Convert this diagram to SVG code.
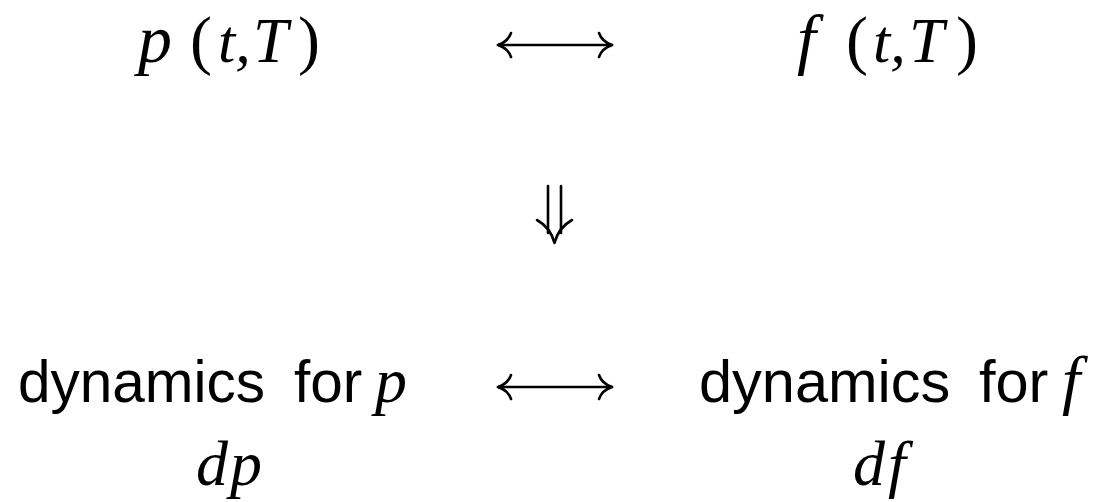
<svg xmlns="http://www.w3.org/2000/svg" width="1104" height="502" viewBox="0 0 1104 502">
<style>
.m{font-family:"Liberation Serif","Times New Roman",serif;font-style:italic;fill:#000}
.mr{font-family:"Liberation Serif","Times New Roman",serif;font-style:normal;fill:#000}
.s{font-family:"Liberation Sans",Arial,sans-serif;fill:#000}
.c{fill:none;stroke:#000;stroke-width:2.6;stroke-linecap:round;stroke-linejoin:round}
</style>
<rect width="1104" height="502" fill="#fff"/>
<g id="node-p">
<text class="m" font-size="68" y="62" x="138">p</text>
<text class="mr" font-size="66" y="62" x="190">(</text>
<text class="m" font-size="62" y="62" x="218">t,</text>
<text class="m" font-size="63" y="62" x="253">T</text>
<text class="mr" font-size="66" y="62" x="298">)</text>
</g>
<g id="node-f">
<text class="m" font-size="68" y="62" x="797">f</text>
<text class="mr" font-size="66" y="62" x="846">(</text>
<text class="m" font-size="62" y="62" x="873">t,</text>
<text class="m" font-size="63" y="62" x="909">T</text>
<text class="mr" font-size="66" y="62" x="956">)</text>
</g>
<g id="node-dyn-p">
<text class="s" font-size="58.5" y="402"><tspan x="18">dynamics</tspan><tspan x="294">for</tspan></text>
<text class="m" font-size="64" y="402" x="375">p</text>
<text class="m" font-size="64" y="485"><tspan x="196">d</tspan><tspan x="230">p</tspan></text>
</g>
<g id="node-dyn-f">
<text class="s" font-size="59.5" y="402"><tspan x="699">dynamics</tspan><tspan x="979">for</tspan></text>
<text class="m" font-size="66" y="402" x="1062">f</text>
<text class="m" font-size="64" y="485"><tspan x="853">d</tspan><tspan x="888">f</tspan></text>
</g>
<g id="connectors">
<path class="c" d="M498 45 H612"/>
<path class="c" d="M511 33 C509 39 504 43 498 45 C504 47 509 51 511 57"/>
<path class="c" d="M599 33 C601 39 606 43 612 45 C606 47 601 51 599 57"/>
<path class="c" d="M498 387 H612"/>
<path class="c" d="M511 375 C509 381 504 385 498 387 C504 389 509 393 511 399"/>
<path class="c" d="M599 375 C601 381 606 385 612 387 C606 389 601 393 599 399"/>
<path class="c" d="M548 186 V233 M561 186 V233"/>
<path class="c" d="M537 220 C546 225 552 233 554.5 243 C557 233 563 225 572 220"/>
</g>
</svg>
